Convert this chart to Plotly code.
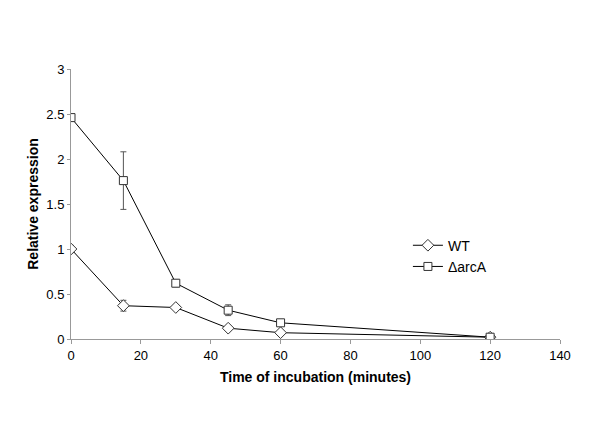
import plotly.graph_objects as go

time_min = [0, 15, 30, 45, 60, 120]
wt_values = [1.0, 0.37, 0.35, 0.12, 0.07, 0.02]
wt_err = [0.04, 0.06, 0.02, 0.02, 0.01, 0.01]
arca_values = [2.46, 1.76, 0.62, 0.32, 0.18, 0.02]
arca_err = [0.03, 0.32, 0.04, 0.06, 0.02, 0.01]
x_ticks = [0, 20, 40, 60, 80, 100, 120, 140]
y_ticks = [0, 0.5, 1, 1.5, 2, 2.5, 3]

fig = go.Figure()
fig.add_trace(go.Scatter(
    x=time_min, y=wt_values, name="WT", mode="lines+markers",
    line=dict(color="black", width=1),
    marker=dict(symbol="diamond", size=9, color="white", line=dict(color="#333333", width=1)),
    error_y=dict(type="data", array=wt_err, visible=True, color="#555555", thickness=1, width=3),
))
fig.add_trace(go.Scatter(
    x=time_min, y=arca_values, name="ΔarcA", mode="lines+markers",
    line=dict(color="black", width=1),
    marker=dict(symbol="square", size=8, color="white", line=dict(color="#333333", width=1)),
    error_y=dict(type="data", array=arca_err, visible=True, color="#555555", thickness=1, width=3),
))

fig.update_layout(
    width=600, height=428,
    margin=dict(l=63, r=48, t=61, b=97),
    paper_bgcolor="white", plot_bgcolor="white",
    font=dict(family="Liberation Sans, Arial, sans-serif", size=13, color="black"),
    showlegend=True,
    legend=dict(x=0.689, y=0.405, xanchor="left", yanchor="top", bgcolor="rgba(0,0,0,0)",
                font=dict(size=14), tracegroupgap=0),
)
fig.update_xaxes(
    range=[0, 140], tickvals=x_ticks, showgrid=False, zeroline=False,
    showline=True, linecolor="#999999", linewidth=1, automargin=False,
    ticks="outside", ticklen=4, tickcolor="#999999",
    title=dict(text="<b>Time of incubation (minutes)</b>", font=dict(size=14), standoff=10),
)
fig.update_yaxes(
    range=[0, 3], tickvals=y_ticks, showgrid=False, zeroline=False,
    showline=True, linecolor="#999999", linewidth=1, automargin=False,
    ticks="outside", ticklen=3, tickcolor="#999999",
    title=dict(text="<b>Relative expression</b>", font=dict(size=14), standoff=4),
)

fig.write_html("out.html")
